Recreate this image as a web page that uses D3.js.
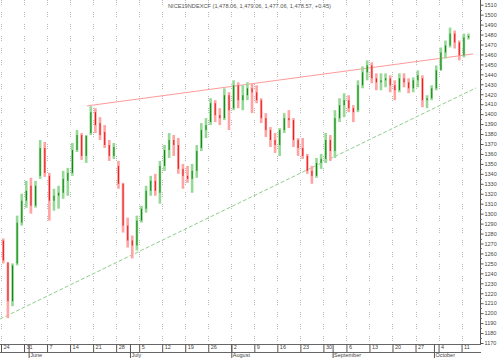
<!DOCTYPE html>
<html><head><meta charset="utf-8">
<script src="https://cdn.jsdelivr.net/npm/d3@7"></script>
<style>
html,body{margin:0;padding:0;background:#fff;}
svg{display:block;font-family:"Liberation Sans",Arial,sans-serif;}
</style></head>
<body>
<svg id="c" width="500" height="358"></svg>
<script>
// ---- data ----
const title = "NICE19NDEXCF (1,478.06, 1,479.06, 1,477.06, 1,478.57, +0.45)";
const startDate = "2010-05-24";
const openV  = [1273,1251,1212,1250,1291,1313,1328,1308,1338,1366,1338,1313,1318,1321,1333,1341,1364,1379,1358,1381,
                1402,1391,1382,1369,1358,1348,1330,1288,1273,1268,1293,1305,1323,1333,1321,1348,1364,1374,1369,1345,
                1338,1335,1343,1366,1384,1392,1411,1399,1396,1419,1406,1429,1414,1419,1426,1422,1414,1396,1384,1374,
                1369,1384,1396,1394,1374,1366,1358,1343,1338,1351,1355,1374,1363,1396,1409,1414,1406,1404,1429,1442,
                1449,1436,1432,1434,1436,1429,1424,1436,1432,1426,1434,1436,1414,1416,1426,1444,1462,1469,1481,1472,
                1459,1477];
const highV  = [1275,1251,1250,1298,1320,1333,1336,1333,1374,1372,1341,1325,1328,1343,1346,1371,1384,1381,1379,1408,
                1406,1397,1389,1374,1371,1353,1331,1296,1278,1298,1308,1328,1338,1340,1353,1369,1381,1379,1376,1350,
                1348,1350,1369,1391,1396,1416,1414,1406,1426,1422,1434,1432,1429,1432,1431,1429,1416,1401,1387,1381,
                1386,1401,1404,1396,1376,1376,1360,1348,1356,1360,1381,1379,1404,1416,1421,1419,1409,1434,1448,1454,
                1452,1441,1441,1441,1439,1434,1441,1441,1436,1437,1444,1439,1419,1429,1449,1467,1474,1487,1484,1474,
                1481,1481];
const lowV   = [1250,1195,1207,1248,1288,1306,1300,1306,1335,1337,1293,1303,1305,1315,1318,1338,1362,1354,1351,1379,
                1381,1374,1366,1353,1355,1325,1281,1266,1255,1263,1291,1301,1318,1318,1310,1343,1356,1358,1340,1325,
                1331,1321,1336,1363,1376,1389,1392,1389,1394,1384,1404,1406,1404,1414,1401,1411,1391,1377,1367,1361,
                1358,1381,1386,1367,1358,1355,1340,1330,1336,1345,1351,1353,1356,1392,1397,1402,1392,1402,1426,1434,
                1431,1424,1424,1427,1422,1414,1422,1427,1421,1422,1427,1407,1406,1414,1424,1444,1456,1467,1466,1454,
                1457,1475];
const closeV = [1253,1212,1248,1291,1313,1323,1308,1328,1366,1341,1313,1318,1321,1335,1341,1364,1379,1358,1378,1402,
                1389,1379,1369,1358,1367,1330,1288,1273,1268,1293,1305,1323,1333,1323,1348,1364,1374,1369,1345,1338,
                1335,1343,1363,1384,1389,1411,1399,1396,1419,1404,1429,1414,1419,1426,1422,1414,1396,1384,1374,1369,
                1384,1396,1394,1374,1366,1358,1343,1338,1351,1355,1374,1363,1396,1409,1414,1406,1402,1429,1442,1449,
                1436,1432,1434,1436,1429,1424,1436,1432,1426,1434,1439,1414,1416,1426,1444,1462,1469,1481,1472,1459,
                1477,1478.57];
const weekLabels = ["24","31","7","14","21","28","5","12","19","26","2","9","16","23","30","6","13","20","27","4","11"];
const monthNames = ["June","July","August","September","October"];
const monthStarts = ["2010-06-01","2010-07-01","2010-08-02","2010-09-01","2010-10-01"];
const resistance = [{d:18.67, v:1408.3}, {d:102.5, v:1460.5}];
const support    = [{d:-0.22, v:1194.1}, {d:103.1, v:1426.3}];
const yTicks = d3.range(1170, 1511, 10);

// ---- build trading days (weekdays) ----
const parse = d3.timeParse("%Y-%m-%d");
const fmt = d3.timeFormat("%Y-%m-%d");
const allDays = [];
let cur = parse(startDate);
while (allDays.length < 110) {
  const wd = cur.getDay();
  if (wd !== 0 && wd !== 6) allDays.push(fmt(cur));
  cur = d3.timeDay.offset(cur, 1);
}
const bars = openV.map((o,i)=>({i, date:allDays[i], o, h:highV[i], l:lowV[i], c:closeV[i]}));
const weekIdx = weekLabels.map((_,k)=>k*5);
const monthIdx = monthStarts.map(s=>allDays.indexOf(s));

// ---- scales ----
const svg = d3.select("#c");
const x = d3.scaleLinear().domain([0,104]).range([1,480]);
const y = d3.scaleLinear().domain([1170,1510]).range([343,4.7]);
const bw = x(1)-x(0);
const plotBottom = 344;

// grid lines
svg.append("g").selectAll("line").data(weekIdx).join("line")
  .attr("x1",d=>Math.round(x(d))+0.5).attr("x2",d=>Math.round(x(d))+0.5)
  .attr("y1",0).attr("y2",plotBottom)
  .attr("stroke","#b8b8b8").attr("stroke-width",1)
  .attr("stroke-dasharray","1,1,1,1,1,7");

// title
svg.append("text").attr("x",168).attr("y",8).attr("font-size",5.5)
  .attr("fill","#555").attr("textLength",163).attr("lengthAdjust","spacingAndGlyphs")
  .text(title);

// trend lines
const line = d3.line().x(d=>x(d.d)).y(d=>y(d.v));
svg.append("path").datum(support).attr("d",line).attr("fill","none")
  .attr("stroke","#8fcf8f").attr("stroke-width",1).attr("stroke-dasharray","4,2");
svg.append("path").datum(resistance).attr("d",line).attr("fill","none")
  .attr("stroke","#ff9a9a").attr("stroke-width",1);

// candles
const g = svg.append("g");
const up = d=>d.c>=d.o;
g.selectAll("rect.rng").data(bars).join("rect").attr("class","rng")
  .attr("x",d=>x(d.i)+1.0).attr("width",bw-2.0)
  .attr("y",d=>y(d.h)).attr("height",d=>Math.max(1,y(d.l)-y(d.h)))
  .attr("fill",d=>up(d)?"#96d896":"#ffa3a3");
g.selectAll("rect.body").data(bars).join("rect").attr("class","body")
  .attr("x",d=>x(d.i)+1.8).attr("width",1.1)
  .attr("y",d=>y(Math.max(d.o,d.c))).attr("height",d=>Math.max(1,Math.abs(y(d.o)-y(d.c))))
  .attr("fill",d=>up(d)?"#138a13":"#e82020");

// right axis
svg.append("line").attr("x1",480.5).attr("x2",480.5).attr("y1",0).attr("y2",plotBottom)
  .attr("stroke","#555");
const yAxis = svg.append("g").attr("transform","translate(480.5,0)")
  .call(d3.axisRight(y).tickValues(yTicks).tickSize(3).tickSizeOuter(0).tickPadding(1).tickFormat(d3.format("d")));
yAxis.select(".domain").remove();
yAxis.selectAll("line").attr("stroke","#555");
yAxis.selectAll("text").attr("font-size",5.5).attr("fill","#444").attr("font-family","Liberation Sans, Arial, sans-serif");
// minor ticks
svg.append("g").selectAll("line").data(d3.range(1175,1510,10)).join("line")
  .attr("x1",480.5).attr("x2",482).attr("y1",d=>Math.round(y(d))+0.5).attr("y2",d=>Math.round(y(d))+0.5)
  .attr("stroke","#777");

// bottom axis box
svg.append("line").attr("x1",0).attr("x2",481).attr("y1",plotBottom+0.5).attr("y2",plotBottom+0.5).attr("stroke","#666");
svg.append("line").attr("x1",0).attr("x2",481).attr("y1",352.5).attr("y2",352.5).attr("stroke","#666");
const xAxis = svg.append("g").attr("transform",`translate(0,${plotBottom})`)
  .call(d3.axisBottom(x).tickValues(weekIdx).tickSize(8).tickSizeOuter(0)
        .tickFormat((d,k)=>weekLabels[k]));
xAxis.select(".domain").remove();
xAxis.selectAll("line").attr("stroke","#555");
xAxis.selectAll("text").attr("font-size",5.5).attr("fill","#444").attr("text-anchor","start")
  .attr("x",2).attr("y",1.2).attr("dy","0.71em").attr("font-family","Liberation Sans, Arial, sans-serif");

const mAxis = svg.append("g").attr("transform",`translate(0,${plotBottom})`)
  .call(d3.axisBottom(x).tickValues(monthIdx).tickSize(14).tickSizeOuter(0)
        .tickFormat((d,k)=>monthNames[k]));
mAxis.select(".domain").remove();
mAxis.selectAll("line").attr("stroke","#555");
mAxis.selectAll("text").attr("font-size",5.5).attr("fill","#444").attr("text-anchor","start")
  .attr("x",1).attr("y",9.5).attr("dy","0.71em").attr("font-family","Liberation Sans, Arial, sans-serif");
</script>
</body></html>
